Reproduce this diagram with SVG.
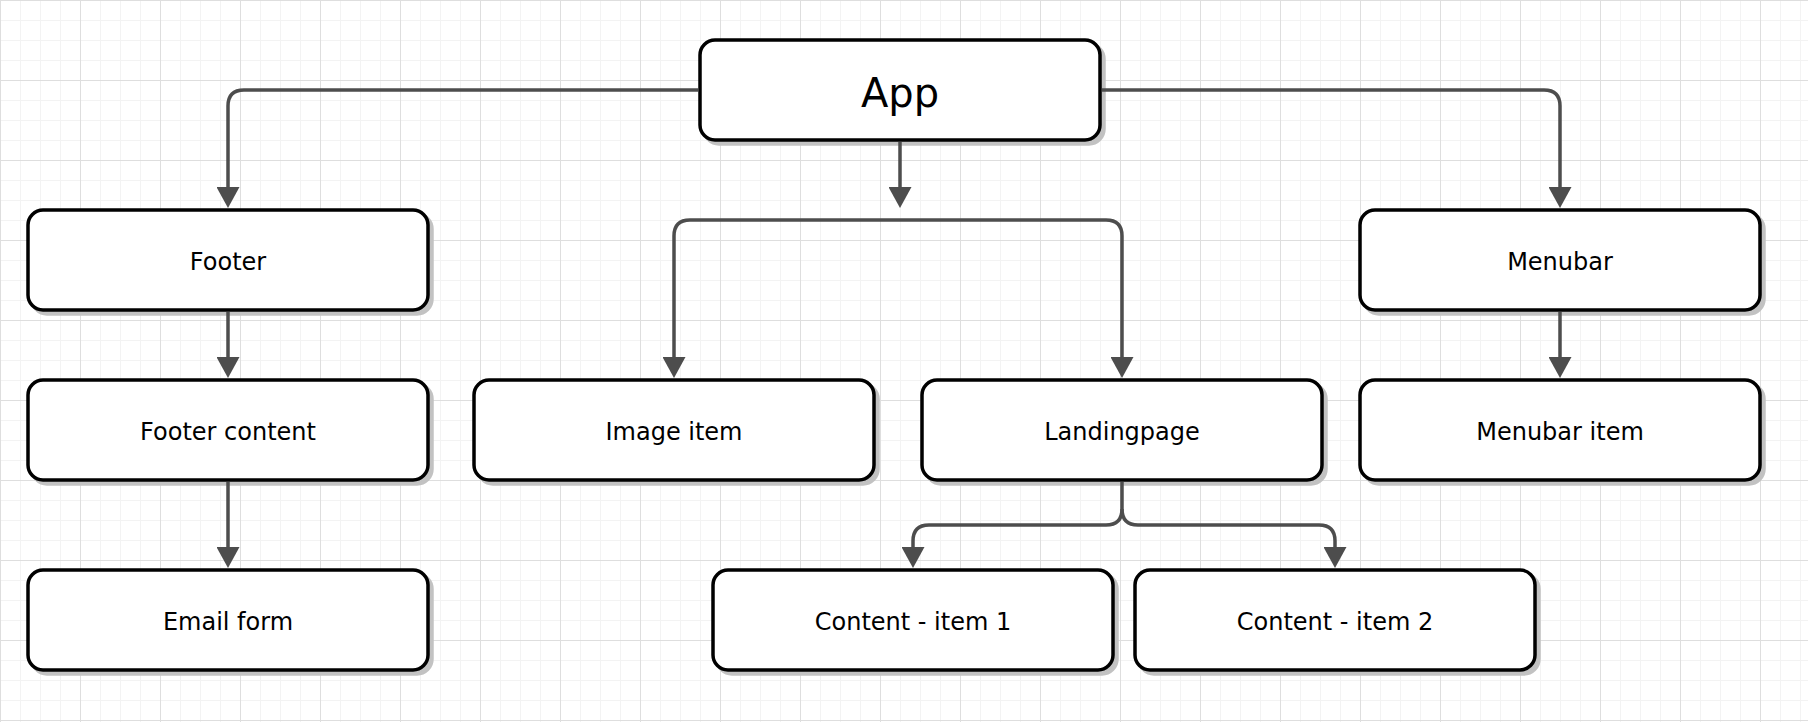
<svg xmlns="http://www.w3.org/2000/svg" width="1808" height="722" viewBox="0 0 1808 722">
<defs>
<pattern id="minor" x="0" y="0" width="20" height="20" patternUnits="userSpaceOnUse">
<path d="M0.5,0 V20 M0,0.5 H20" stroke="#f3f3f3" stroke-width="1" fill="none"/>
</pattern>
<pattern id="major" x="0" y="0" width="80" height="80" patternUnits="userSpaceOnUse">
<path d="M0.5,0 V80 M0,0.5 H80" stroke="#dedede" stroke-width="1" fill="none"/>
</pattern>
<marker id="arr" markerUnits="userSpaceOnUse" markerWidth="22" markerHeight="23" viewBox="0 0 21 23" refX="1" refY="11.5" orient="auto-start-reverse">
<path d="M0,0 L21,11.5 L0,23 Z" fill="#4d4d4d"/>
</marker>
</defs>
<style>
.node rect.box{fill:#ffffff;stroke:#000000;stroke-width:3.5}
.node rect.sh{fill:#c2c2c2;stroke:#c2c2c2;stroke-width:3.5}
.node text{font-family:"DejaVu Sans",Verdana,sans-serif;font-size:24px;fill:#000;text-anchor:middle}
#n-app text{font-size:40px}
.edges path{fill:none;stroke:#4d4d4d;stroke-width:3.5}
</style>
<rect width="1808" height="722" fill="#ffffff"/>
<rect width="1808" height="722" fill="url(#minor)"/>
<rect width="1808" height="722" fill="url(#major)"/>

<g class="node" id="n-app">
<rect class="sh" x="704" y="44" width="400" height="100" rx="15"/>
<rect class="box" x="700" y="40" width="400" height="100" rx="15"/>
<text x="900" y="107">App</text>
</g>
<g class="node" id="n-footer">
<rect class="sh" x="32" y="214" width="400" height="100" rx="15"/>
<rect class="box" x="28" y="210" width="400" height="100" rx="15"/>
<text x="228" y="269.5">Footer</text>
</g>
<g class="node" id="n-footer-content">
<rect class="sh" x="32" y="384" width="400" height="100" rx="15"/>
<rect class="box" x="28" y="380" width="400" height="100" rx="15"/>
<text x="228" y="439.5">Footer content</text>
</g>
<g class="node" id="n-email">
<rect class="sh" x="32" y="574" width="400" height="100" rx="15"/>
<rect class="box" x="28" y="570" width="400" height="100" rx="15"/>
<text x="228" y="629.5">Email form</text>
</g>
<g class="node" id="n-image">
<rect class="sh" x="478" y="384" width="400" height="100" rx="15"/>
<rect class="box" x="474" y="380" width="400" height="100" rx="15"/>
<text x="674" y="439.5">Image item</text>
</g>
<g class="node" id="n-landing">
<rect class="sh" x="926" y="384" width="400" height="100" rx="15"/>
<rect class="box" x="922" y="380" width="400" height="100" rx="15"/>
<text x="1122" y="439.5">Landingpage</text>
</g>
<g class="node" id="n-menubar">
<rect class="sh" x="1364" y="214" width="400" height="100" rx="15"/>
<rect class="box" x="1360" y="210" width="400" height="100" rx="15"/>
<text x="1560" y="269.5">Menubar</text>
</g>
<g class="node" id="n-menubar-item">
<rect class="sh" x="1364" y="384" width="400" height="100" rx="15"/>
<rect class="box" x="1360" y="380" width="400" height="100" rx="15"/>
<text x="1560" y="439.5">Menubar item</text>
</g>
<g class="node" id="n-content1">
<rect class="sh" x="717" y="574" width="400" height="100" rx="15"/>
<rect class="box" x="713" y="570" width="400" height="100" rx="15"/>
<text x="913" y="629.5">Content - item 1</text>
</g>
<g class="node" id="n-content2">
<rect class="sh" x="1139" y="574" width="400" height="100" rx="15"/>
<rect class="box" x="1135" y="570" width="400" height="100" rx="15"/>
<text x="1335" y="629.5">Content - item 2</text>
</g>

<g class="edges" id="connectors">
<path d="M698,90 H244 Q228,90 228,106 V188" marker-end="url(#arr)"/>
<path d="M1102,90 H1544 Q1560,90 1560,106 V188" marker-end="url(#arr)"/>
<path d="M900,142 V188" marker-end="url(#arr)"/>
<path d="M674,358 V236 Q674,220 690,220 H1106 Q1122,220 1122,236 V358" marker-start="url(#arr)" marker-end="url(#arr)"/>
<path d="M228,312 V358" marker-end="url(#arr)"/>
<path d="M228,482 V548" marker-end="url(#arr)"/>
<path d="M1560,312 V358" marker-end="url(#arr)"/>
<path d="M1122,482 V509 Q1122,525 1106,525 H929 Q913,525 913,541 V548" marker-end="url(#arr)"/>
<path d="M1122,509 Q1122,525 1138,525 H1319 Q1335,525 1335,541 V548" marker-end="url(#arr)"/>
</g>
</svg>
